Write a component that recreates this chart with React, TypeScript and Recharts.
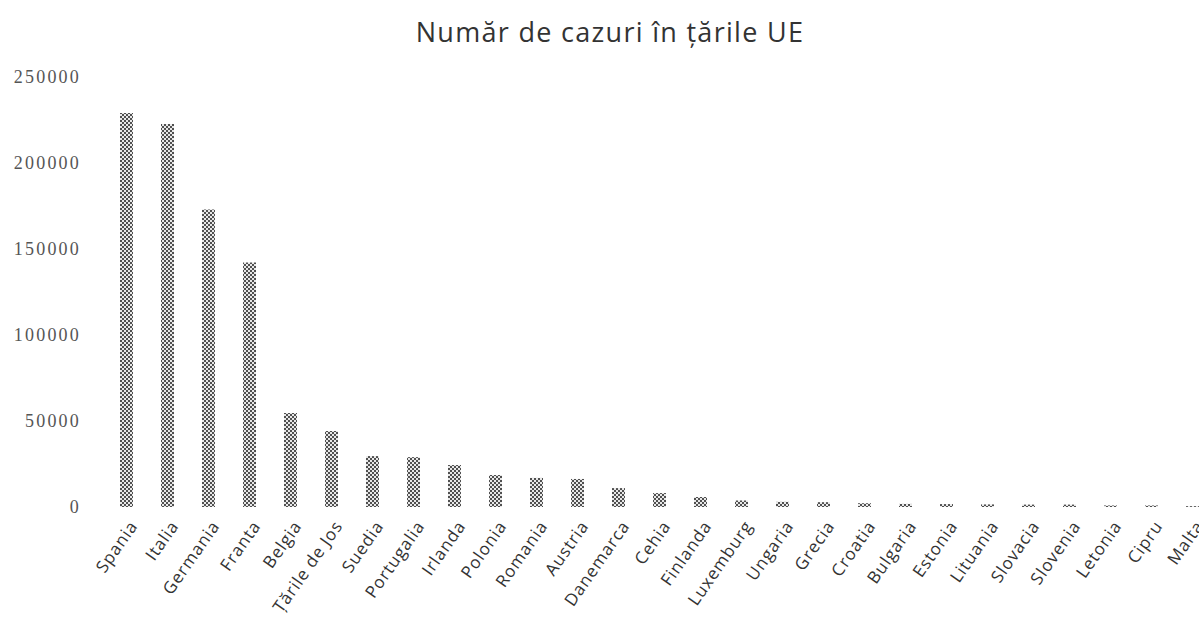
import { BarChart, Bar, XAxis, YAxis } from "recharts";

const COUNTRIES = [
  "Spania", "Italia", "Germania", "Franta", "Belgia", "Țările de Jos", "Suedia",
  "Portugalia", "Irlanda", "Polonia", "Romania", "Austria", "Danemarca", "Cehia",
  "Finlanda", "Luxemburg", "Ungaria", "Grecia", "Croatia", "Bulgaria", "Estonia",
  "Lituania", "Slovacia", "Slovenia", "Letonia", "Cipru", "Malta",
];

const CASES = [
  229100, 222700, 172900, 142100, 54600, 44200, 29600,
  29000, 24400, 18600, 16900, 16300, 11000, 8100,
  5800, 3800, 3000, 2800, 2200, 1800, 1700,
  1500, 1400, 1400, 900, 900, 500,
];

const Y_TICKS = [0, 50000, 100000, 150000, 200000, 250000];

const data = COUNTRIES.map((c, i) => ({ country: c, cases: CASES[i] }));

export default function App() {
  return (
    <div
      style={{
        position: "absolute",
        left: 0,
        top: 0,
        width: 1199,
        height: 622,
        overflow: "hidden",
        background: "#fff",
      }}
    >
      <div
        style={{
          position: "absolute",
          left: 0,
          width: 1220,
          top: 14,
          textAlign: "center",
          fontFamily: "'Open Sans', sans-serif",
          fontSize: 27,
          letterSpacing: 1.3,
          color: "#333",
          lineHeight: "36px",
        }}
      >
        Număr de cazuri în țările UE
      </div>
      <BarChart
        width={1215}
        height={622}
        data={data}
        margin={{ top: 77, right: 2, bottom: 0, left: 0 }}
      >
        <defs>
          <pattern id="checker" width="4" height="4" patternUnits="userSpaceOnUse">
            <rect width="4" height="4" fill="#e8e8e8" />
            <rect x="0" y="0" width="2" height="2" fill="#505050" />
            <rect x="2" y="2" width="2" height="2" fill="#505050" />
          </pattern>
        </defs>
        <XAxis
          dataKey="country"
          interval={0}
          axisLine={false}
          tickLine={false}
          height={115}
          angle={-55}
          textAnchor="end"
          tickMargin={6}
          tick={{
            fontFamily: "'Open Sans', sans-serif",
            fontSize: 17,
            letterSpacing: 0.9,
            fill: "#333",
            dx: 2,
          }}
        />
        <YAxis
          width={106}
          domain={[0, 250000]}
          ticks={Y_TICKS}
          axisLine={false}
          tickLine={false}
          tickSize={0}
          tickMargin={25}
          tick={{
            fontFamily: "'Liberation Serif', serif",
            fontSize: 18,
            fill: "#555",
            letterSpacing: 2.2,
          }}
        />
        <Bar dataKey="cases" fill="url(#checker)" barSize={13} isAnimationActive={false} />
      </BarChart>
    </div>
  );
}
